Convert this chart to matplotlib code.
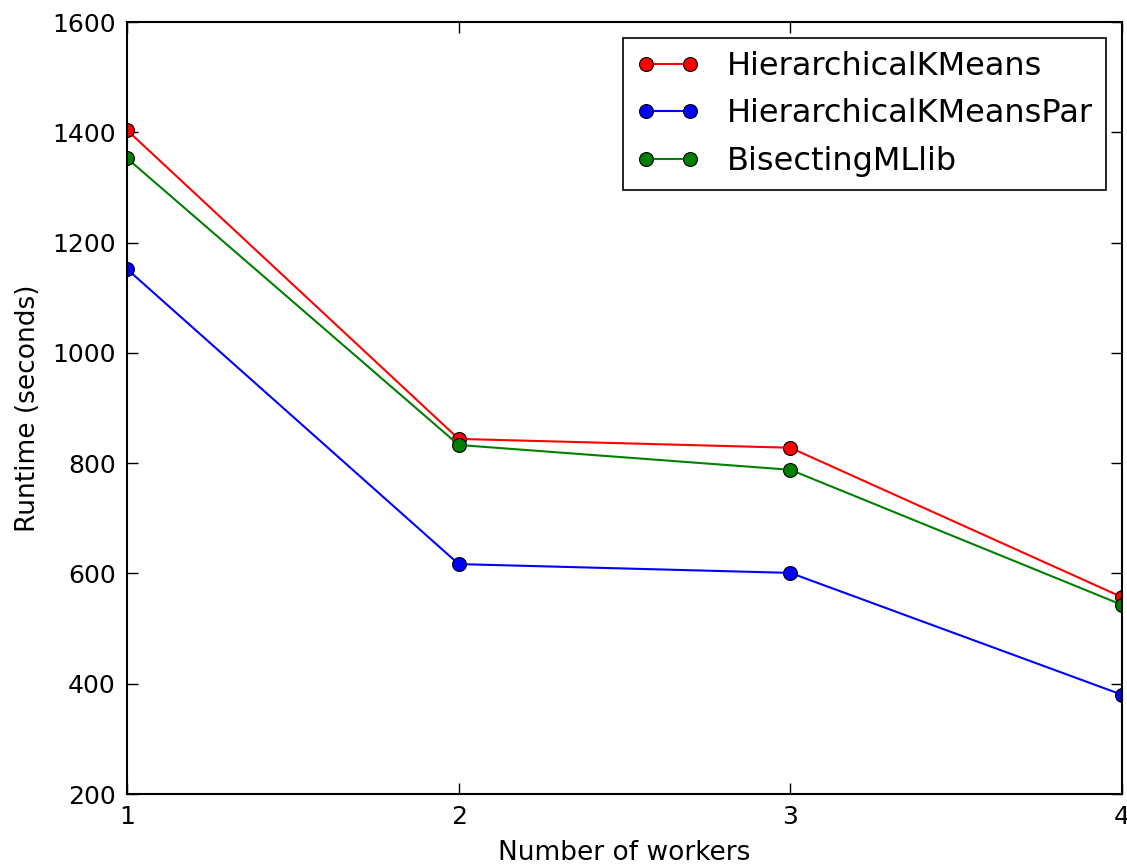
import matplotlib
matplotlib.use("Agg")
import matplotlib.pyplot as plt

workers = [1, 2, 3, 4]
hkm = [1404, 844, 828, 557]
hkm_par = [1152, 617, 601, 380]
bisecting = [1353, 833, 788, 543]
labels = ["HierarchicalKMeans", "HierarchicalKMeansPar", "BisectingMLlib"]

fig = plt.figure(figsize=(11.27, 8.64), dpi=100)
ax = fig.add_axes([0.1127, 0.081, 0.8829, 0.8935])

for ys, c, lab in zip([hkm, hkm_par, bisecting], ["#ff0000", "#0000ff", "#008000"], labels):
    ax.plot(workers, ys, color=c, lw=1.5, marker="o", markersize=10,
            markeredgecolor="black", markeredgewidth=0.8, label=lab)

ax.set_xlim(1, 4)
ax.set_ylim(200, 1600)
ax.set_xticks([1, 2, 3, 4])
ax.set_yticks(range(200, 1601, 200))
ax.tick_params(direction="in", length=8, width=1, top=True, right=True, labelsize=18, pad=8)
for s in ax.spines.values():
    s.set_linewidth(1.5)
ax.set_xlabel("Number of workers", fontsize=19, labelpad=8)
ax.set_ylabel("Runtime (seconds)", fontsize=19, labelpad=8)

leg = ax.legend(loc="upper right", fontsize=23, fancybox=False, framealpha=1,
                edgecolor="black", numpoints=2, handlelength=2.0, borderaxespad=0.5,
                handletextpad=0.85, labelspacing=0.52, borderpad=0.4)
leg.get_frame().set_linewidth(1.2)

fig.savefig("out.png", dpi=100, facecolor="white")
